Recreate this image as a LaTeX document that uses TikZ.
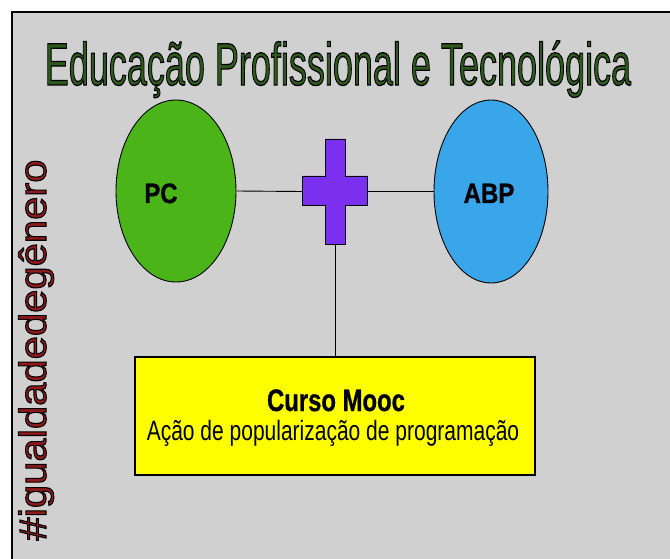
\documentclass[tikz,border=0pt]{standalone}
\usepackage{fontspec}
\setmainfont{Liberation Sans}
\usetikzlibrary{shapes.geometric}
\definecolor{bggray}{HTML}{D0D0D0}
\definecolor{pcgreen}{HTML}{4AB418}
\definecolor{abpblue}{HTML}{3AA6EA}
\definecolor{crosspurple}{HTML}{7A30EE}
\definecolor{boxyellow}{HTML}{FFFF00}
\definecolor{titlegreen}{HTML}{2F5A1E}
\definecolor{hashred}{HTML}{8E1A1A}
\newcommand{\outlined}[2]{\special{pdf:literal 2 Tr #1 w 0 G}#2\special{pdf:literal 0 Tr}}
\tikzset{
  connector/.style={draw=black, line width=0.9pt},
  blob/.style={ellipse, draw=black, line width=0.9pt, inner sep=0pt},
  lbl/.style={font=\fontsize{28}{28}\selectfont\bfseries, anchor=base, inner sep=0pt}
}
\begin{document}
\begin{tikzpicture}[x=1pt,y=-1pt]
\useasboundingbox (0,0) rectangle (670,559);
\fill[white] (0,0) rectangle (670,559);
\path[fill=bggray, draw=black, line width=1.6pt] (12,12) rectangle (680,570);
% title
\node[font=\fontsize{60}{60}\selectfont, text=titlegreen, anchor=base, inner sep=0pt] (title) at (338,85)
  {\scalebox{0.6}[1]{\outlined{1.3}{Educação Profissional e Tecnológica}}};
% hashtag
\node[font=\fontsize{38}{38}\selectfont, text=hashred, rotate=90, anchor=base, inner sep=0pt] (hash) at (46,350)
  {\scalebox{1.1}[1]{\outlined{1.0}{\#igualdadedegênero}}};
% ellipses
\node[blob, fill=pcgreen, minimum width=120pt, minimum height=182pt] (pc) at (176,191) {};
\node[lbl] (pct) at (161,203) {\scalebox{0.85}[1]{\outlined{0.3}{PC}}};
\node[blob, fill=abpblue, minimum width=114pt, minimum height=183pt] (abp) at (491,191.5) {};
\node[lbl] (abpt) at (489,203) {\scalebox{0.86}[1]{\outlined{0.3}{ABP}}};
% cross
\node[minimum width=65pt, minimum height=105pt, inner sep=0pt] (plus) at (335,191.5) {};
\path[fill=crosspurple, draw=black, line width=0.9pt]
  (325,139) -- (345,139) -- (345,176) -- (367.5,176) -- (367.5,205) -- (345,205)
  -- (345,244) -- (325,244) -- (325,205) -- (302.5,205) -- (302.5,176) -- (325,176) -- cycle;
% box
\node[draw=black, line width=1.2pt, fill=boxyellow, minimum width=400pt, minimum height=118pt, inner sep=0pt] (mooc) at (335,416) {};
\node[font=\fontsize{31}{31}\selectfont\bfseries, anchor=base, inner sep=0pt] (mooct) at (336,411) {\scalebox{0.77}[1]{\outlined{0.3}{Curso Mooc}}};
\node[font=\fontsize{28}{28}\selectfont, anchor=base, inner sep=0pt] (moocs) at (333,440) {\scalebox{0.75}[1]{Ação de popularização de programação}};
% connectors
\draw[connector] (pc.east) -- (plus.west);
\draw[connector] (plus.east) -- (abp.west);
\draw[connector] (plus.south) -- (mooc.north);
\end{tikzpicture}
\end{document}
